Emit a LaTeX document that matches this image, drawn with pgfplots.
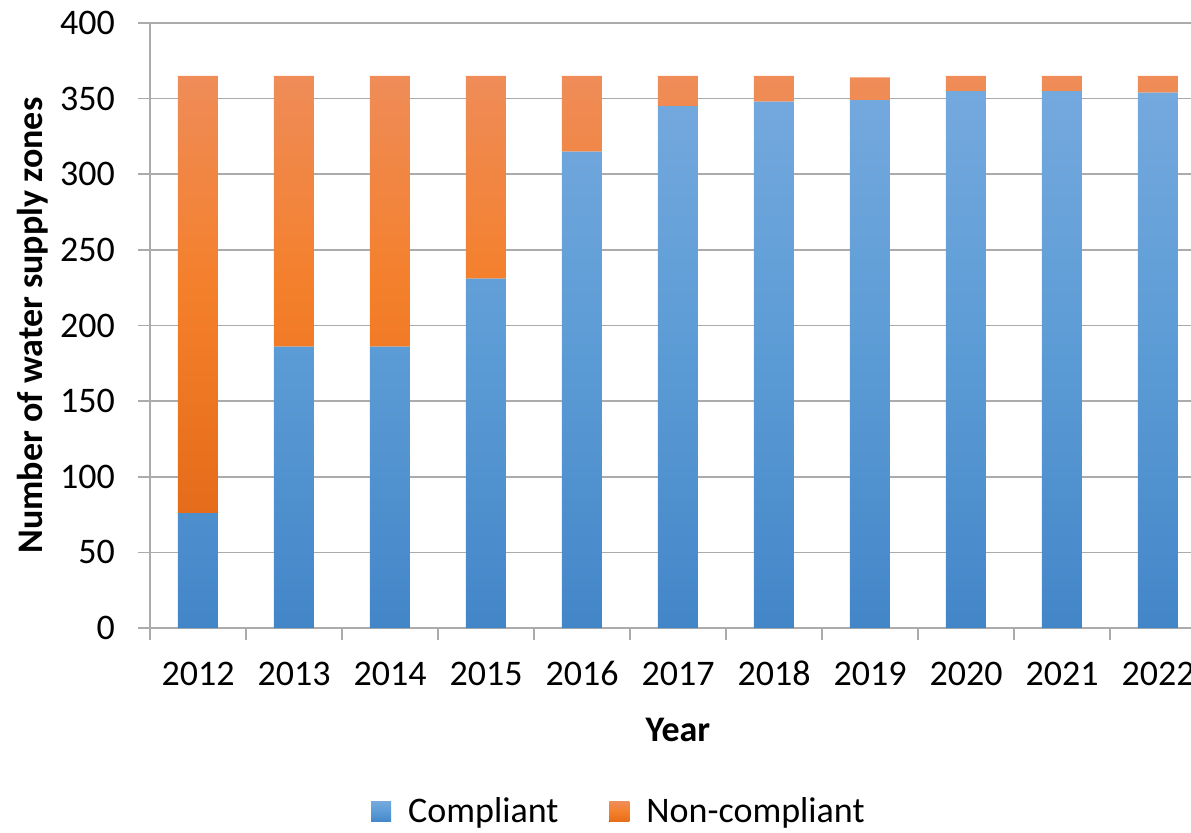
\documentclass[border=0pt]{standalone}
\usepackage{pgfplots}
\pgfplotsset{compat=1.18}
\usepackage{fontspec}
\setmainfont{Carlito}
\definecolor{blueT}{HTML}{74A9DE}
\definecolor{blueM}{HTML}{5B9BD5}
\definecolor{blueB}{HTML}{4386C8}
\definecolor{orT}{HTML}{EF8C58}
\definecolor{orM}{HTML}{F47F2A}
\definecolor{orB}{HTML}{E56C1A}
\definecolor{gridc}{HTML}{ABABAB}
\begin{document}
\begin{tikzpicture}[x=1pt,y=1pt]
\useasboundingbox (-75,-102) rectangle (520.5,314);
\begin{axis}[
  at={(0,0)}, anchor=south west,
  scale only axis,
  width=528pt, height=302.5pt,
  ybar stacked, bar width=20pt,
  xmin=-0.5, xmax=10.5, ymin=0, ymax=400,
  xtick={0,...,10},
  xticklabels={2012,2013,2014,2015,2016,2017,2018,2019,2020,2021,2022},
  minor xtick={-0.5,0.5,...,10.5},
  ytick={0,50,...,400},
  ymajorgrids, major grid style={gridc, line width=0.8pt},
  axis x line*=bottom, axis y line*=left,
  axis line style={gridc, line width=0.8pt, -},
  x tick style={draw=none},
  minor x tick style={draw=gridc, line width=0.8pt},
  y tick style={draw=gridc, line width=0.8pt},
  tick align=outside,
  major tick length=6pt, minor tick length=6pt,
  /pgf/number format/assume math mode=true,
  /pgf/number format/1000 sep={},
  tick label style={font=\fontsize{18}{20}\selectfont, black},
  xticklabel style={anchor=base, yshift=-22.5pt},
  yticklabel style={xshift=-8pt},
  xlabel={\textbf{Year}},
  ylabel={\textbf{Number of water supply zones}},
  label style={font=\fontsize{18}{20}\selectfont},
  xlabel style={at={(axis description cs:0.5,-0.169)}, anchor=center},
  ylabel style={at={(axis description cs:-0.111,0.5)}, anchor=center, rotate=0},
  legend columns=2,
  legend style={at={(axis description cs:0.445,-0.304)}, anchor=center, draw=none, fill=none,
    font=\fontsize{18}{20}\selectfont,
    /tikz/every odd column/.append style={column sep=6.5pt},
    /tikz/every even column/.append style={column sep=23.5pt}},
  legend image code/.code={\fill[#1] (0pt,-5pt) rectangle (10pt,5pt);},
]
\addplot[draw=none, top color=blueT, bottom color=blueB, middle color=blueM] coordinates {
(0,76) (1,186) (2,186) (3,231) (4,315) (5,345) (6,348) (7,349) (8,355) (9,355) (10,354)};
\addplot[draw=none, top color=orT, bottom color=orB, middle color=orM] coordinates {
(0,289) (1,179) (2,179) (3,134) (4,50) (5,20) (6,17) (7,15) (8,10) (9,10) (10,11)};
\legend{Compliant, Non-compliant}
\end{axis}
\end{tikzpicture}
\end{document}
